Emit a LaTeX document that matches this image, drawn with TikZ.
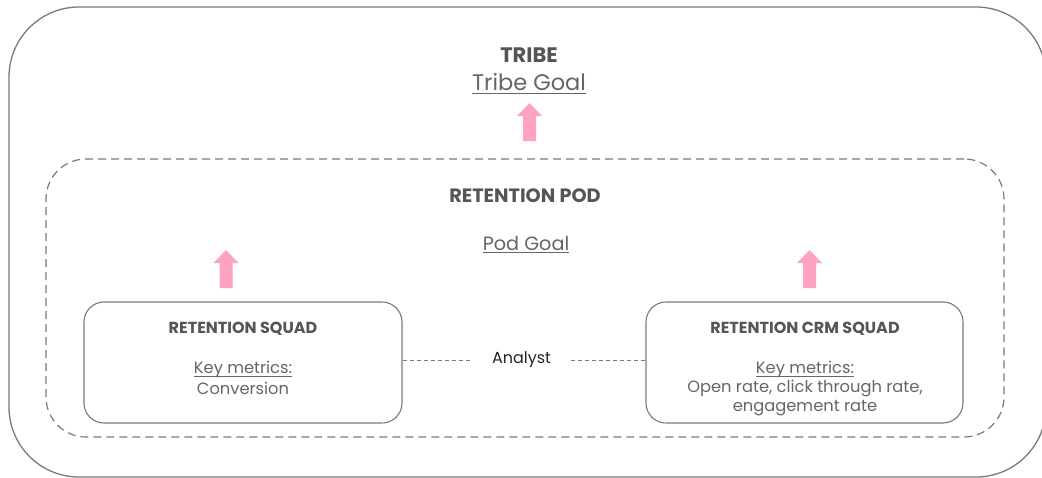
\documentclass[tikz,border=0pt]{standalone}
\usepackage{fontspec}
\setmainfont{Poppins}
\newfontfamily\popbold{Poppins Bold}
\usetikzlibrary{positioning}
\definecolor{linegray}{HTML}{7A7A7A}
\definecolor{boldtext}{HTML}{555555}
\definecolor{regtext}{HTML}{666666}
\definecolor{pinkarrow}{HTML}{FFA3C4}
\newcommand{\myul}[2]{\setbox0\hbox{#2}\rlap{\rule[-#1]{\wd0}{0.9pt}}\box0}
\tikzset{
  outerbox/.style={draw=linegray, line width=1.3pt, rounded corners=70pt, inner sep=0pt},
  podbox/.style={draw=linegray, line width=1.2pt, dash pattern=on 8pt off 5pt, rounded corners=40pt, inner sep=0pt},
  squadbox/.style={draw=linegray, line width=1.1pt, rounded corners=20pt, inner sep=0pt},
  title/.style={text=boldtext, font=\popbold\fontsize{21}{23}\selectfont, inner sep=0pt},
  goal/.style={text=regtext, font=\fontsize{22.5}{24}\selectfont, inner sep=0pt},
  sqtitle/.style={text=boldtext, font=\popbold\fontsize{16}{18}\selectfont, inner sep=0pt},
  sqtext/.style={text=regtext, font=\fontsize{16.3}{18}\selectfont, inner sep=0pt},
  analystlink/.style={draw=linegray, line width=1pt, dash pattern=on 4pt off 3pt},
  uparrow/.style={fill=pinkarrow, draw=none}
}
\newcommand{\pinkup}[3]{% x, tip y, bottom y
  \fill[uparrow] (#1-6.5,#3) -- (#1+6.5,#3) -- (#1+6.5,#2+13) -- (#1+12.5,#2+13) -- (#1,#2) -- (#1-12.5,#2+13) -- (#1-6.5,#2+13) -- cycle;
}
\begin{document}
\begin{tikzpicture}[x=1pt,y=-1pt]
\useasboundingbox (0,0) rectangle (1042,477);
\fill[white] (0,0) rectangle (1042,477);
% containers
\node[outerbox, minimum width=1037pt, minimum height=470pt] (tribe) at (527.5,242) {};
\node[podbox, minimum width=958pt, minimum height=278pt] (pod) at (525,298) {};
\node[squadbox, minimum width=318pt, minimum height=121pt] (sq) at (243,362.5) {};
\node[squadbox, minimum width=317pt, minimum height=121pt] (crm) at (804.5,362.5) {};
% texts
\node[title] (tribeT) at (529,55) {TRIBE};
\node[goal] (tribeG) at (529,83.5) {\myul{3.6pt}{Tribe Goal}};
\node[title, font=\popbold\fontsize{19.3}{21}\selectfont] (podT) at (525,196) {RETENTION POD};
\node[goal, font=\fontsize{19.2}{21}\selectfont] (podG) at (526,244.5) {\myul{3.2pt}{Pod Goal}};
\node[sqtitle] (sqT) at (243,329) {RETENTION SQUAD};
\node[sqtext] (sqK) at (243,369.5) {\myul{2.8pt}{Key metrics:}};
\node[sqtext] (sqM) at (243,388) {Conversion};
\node[sqtitle] (crmT) at (805,329) {RETENTION CRM SQUAD};
\node[sqtext] (crmK) at (805,369.5) {\myul{2.8pt}{Key metrics:}};
\node[sqtext] (crmM1) at (805,388) {Open rate, click through rate,};
\node[sqtext] (crmM2) at (805,408) {engagement rate};
% analyst link
\node[text=black!85, font=\fontsize{16}{18}\selectfont, inner xsep=20pt, inner ysep=0pt] (analyst) at (521.5,360) {Analyst};
\draw[analystlink] (sq.east |- analyst) -- (analyst.west);
\draw[analystlink] (analyst.east) -- (crm.west |- analyst);
% arrows
\pinkup{529.5}{103}{141}
\pinkup{226}{250}{288}
\pinkup{809.5}{250}{288}
\end{tikzpicture}
\end{document}
